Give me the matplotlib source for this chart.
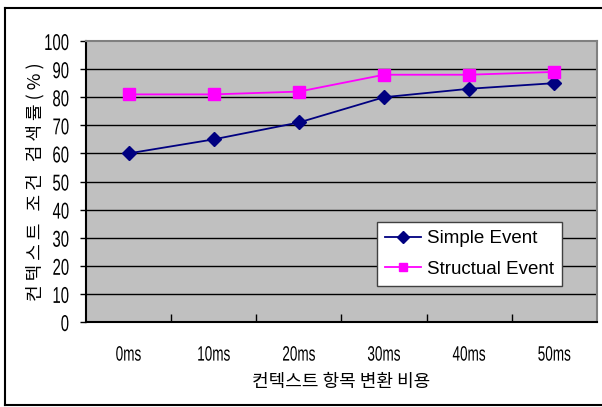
import matplotlib
matplotlib.use("Agg")
import matplotlib.pyplot as plt
from matplotlib.lines import Line2D
from matplotlib.patheffects import AbstractPathEffect
from matplotlib.transforms import Affine2D
import numpy as np

# data
delays = ["0ms", "10ms", "20ms", "30ms", "40ms", "50ms"]
simple_event = [60, 65, 71, 80, 83, 85]
structual_event = [81, 81, 82, 88, 88, 89]
y_ticks = [0, 10, 20, 30, 40, 50, 60, 70, 80, 90, 100]

latin = ["Liberation Sans", "DejaVu Sans"]
kr = ["Noto Sans CJK KR", "DejaVu Sans"]


class Condense(AbstractPathEffect):
    """Squeeze text horizontally around one edge (or the middle)."""

    def __init__(self, sx=0.7, anchor="center"):
        super().__init__()
        self.sx = sx
        self.anchor = anchor

    def draw_path(self, renderer, gc, tpath, affine, rgbFace=None):
        ext = tpath.get_extents(affine)
        if self.anchor == "right":
            cx = ext.x1
        elif self.anchor == "left":
            cx = ext.x0
        else:
            cx = 0.5 * (ext.x0 + ext.x1)
        squeeze = Affine2D().translate(-cx, 0).scale(self.sx, 1).translate(cx, 0)
        renderer.draw_path(gc, tpath, affine + squeeze, rgbFace)


fig = plt.figure(figsize=(6.02, 4.07), dpi=100)
ax = fig.add_axes([86 / 602, 1 - 322 / 407, (597 - 86) / 602, (322 - 41) / 407])
ax.set_facecolor("#C0C0C0")

x = np.arange(len(delays))
ax.plot(x, simple_event, color="#000080", lw=1.3, marker="D", ms=7.5,
        mec="#000080", mfc="#000080", label="Simple Event", zorder=3)
ax.plot(x, structual_event, color="#FF00FF", lw=1.3, marker="s", ms=8,
        mec="#FF00FF", mfc="#FF00FF", label="Structual Event", zorder=3)

ax.set_xlim(-0.5, len(delays) - 0.5)
ax.set_ylim(0, 100)
ax.set_yticks(y_ticks)
ax.set_yticklabels([str(v) for v in y_ticks], fontfamily=latin, fontsize=16.5)
ax.set_xticks(x)
ax.set_xticklabels(delays, fontfamily=latin, fontsize=15)
ax.set_xticks(np.arange(0.5, len(delays) - 1, 1), minor=True)
ax.tick_params(axis="x", which="major", length=0, pad=17)
ax.tick_params(axis="x", which="minor", direction="in", length=6, width=1, color="black")
ax.tick_params(axis="y", direction="out", length=4, width=1, pad=8)

for lbl in ax.get_yticklabels():
    lbl.set_path_effects([Condense(0.65, "right")])
for lbl in ax.get_xticklabels():
    lbl.set_path_effects([Condense(0.65, "center")])

# gridlines
for v in y_ticks[1:-1]:
    ax.axhline(v, color="black", lw=1, zorder=1)

for side in ["left", "bottom"]:
    ax.spines[side].set_color("black")
    ax.spines[side].set_linewidth(1.5)
for side in ["top", "right"]:
    ax.spines[side].set_color("#808080")
    ax.spines[side].set_linewidth(1.5)

ax.set_xlabel("컨텍스트 항목 변환 비용", fontfamily=kr, fontsize=13, labelpad=6)
ax.set_ylabel("컨 텍 스 트   조 건   검 색 률 ( % )", fontfamily=kr, fontsize=13)
ax.yaxis.label.set_va("center")
ax.yaxis.set_label_coords((35 - 86) / 511, 0.5)

leg = ax.legend(loc="lower right", bbox_to_anchor=(562 / 602, 1 - 286 / 407),
                bbox_transform=fig.transFigure, prop={"family": latin, "size": 13.5},
                fancybox=False, framealpha=1, edgecolor="#404040", borderpad=0.45,
                handlelength=1.9, handletextpad=0.3, labelspacing=0.7, borderaxespad=0)
leg.get_frame().set_linewidth(1)
for h in leg.legend_handles:
    h.set_markersize(6)

# outer frame
for xs, ys in [([5 / 602, 5 / 602], [2 / 407, 399 / 407]),
               ([5 / 602, 1], [399 / 407, 399 / 407]),
               ([5 / 602, 1], [2 / 407, 2 / 407])]:
    fig.add_artist(Line2D(xs, ys, transform=fig.transFigure, color="black", lw=1.5))

fig.savefig("out.png", dpi=100)
